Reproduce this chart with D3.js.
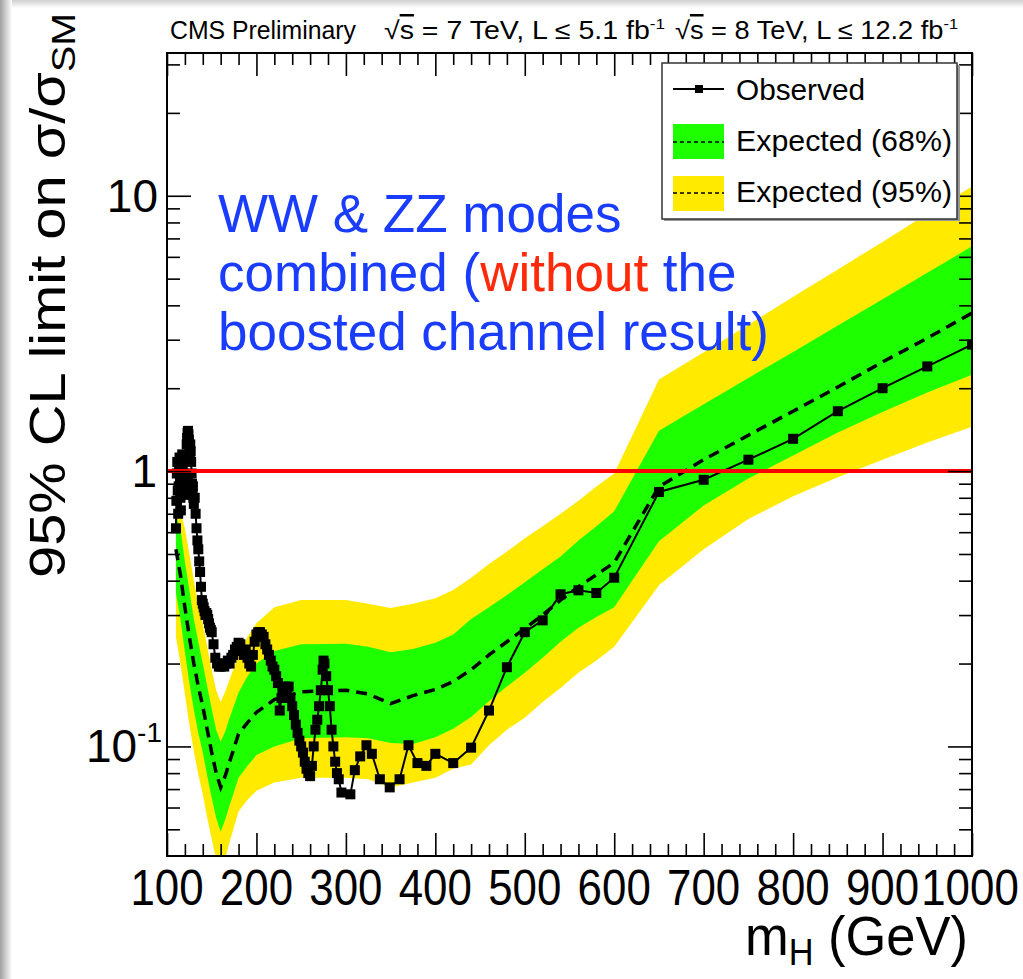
<!DOCTYPE html>
<html><head><meta charset="utf-8">
<script src="https://cdn.jsdelivr.net/npm/d3@7"></script>
<style>
body{margin:0;background:#fff}
svg{display:block}
text{font-family:"Liberation Sans",Arial,Helvetica,sans-serif}
</style>
</head><body>
<svg id="c" width="1023" height="979"></svg>
<script>
// ---------------- DATA ----------------
const obsMass = [110,110.5,111,111.5,112,112.5,113,113.5,114,114.5,115,115.5,116,116.5,117,117.5,118,118.5,119,119.5,
  120,120.5,121,121.5,122,122.5,123,123.5,124,124.5,125,125.5,126,126.5,127,127.5,128,128.5,129,129.5,
  130,131,132,133,134,135,136,137,138,139,140,141,142,143,144,145,146,147,148,149,150,152,154,156,158,160,
  162,164,166,168,170,172,174,176,178,180,182,184,186,188,190,192,194,196,198,200,202,204,206,208,210,
  212,214,216,218,220,222,224,226,228,230,232,234,236,238,240,242,244,246,248,250,252,254,256,258,260,
  262,264,266,268,270,272,274,275,276,278,280,282,284,286,288,290,292,295,305,310,316,323,329,338,349,
  360,370,380,390,400,420,440,460,480,500,520,540,560,580,600,650,700,750,800,850,900,950,1000];
const obsLimit = [0.62,0.78,0.98,1.08,0.85,0.70,0.88,1.02,1.12,0.95,0.80,0.72,0.90,1.0,1.15,1.05,0.92,0.85,0.98,1.1,
  0.95,0.82,0.95,1.12,1.25,1.32,1.38,1.40,1.36,1.30,1.22,1.15,1.25,1.18,1.08,0.98,0.90,0.82,0.88,0.80,
  0.76,0.80,0.70,0.62,0.56,0.52,0.47,0.43,0.38,0.34,0.33,0.32,0.31,0.30,0.305,0.30,0.29,0.28,0.27,0.265,0.26,0.235,0.21,0.20,0.195,0.195,
  0.20,0.195,0.20,0.205,0.20,0.21,0.215,0.225,0.23,0.238,0.235,0.222,0.215,0.225,0.21,0.20,0.195,0.215,0.24,0.255,0.26,0.26,0.255,0.25,0.235,
  0.225,0.215,0.205,0.195,0.19,0.18,0.17,0.135,0.15,0.16,0.165,0.16,0.165,0.15,0.14,0.13,0.12,0.112,0.105,0.10,0.095,0.088,0.083,0.080,0.078,
  0.085,0.10,0.115,0.125,0.14,0.16,0.19,0.205,0.20,0.18,0.16,0.14,0.115,0.10,0.088,0.080,0.076,0.068,0.067,0.082,0.092,0.101,0.094,0.076,0.071,
  0.076,0.101,0.087,0.085,0.094,0.087,0.099,0.135,0.194,0.26,0.287,0.357,0.369,0.361,0.41,0.84,0.93,1.10,1.31,1.65,2.0,2.4,2.88];

const expMass   = [110,115,120,125,130,135,140,145,150,155,160,165,170,180,190,200,220,250,300,325,350,375,400,420,440,460,480,500,520,540,560,580,600,650,700,750,800,850,900,950,1000];
const expMedian = [0.52,0.42,0.32,0.25,0.20,0.165,0.14,0.115,0.095,0.08,0.071,0.078,0.088,0.111,0.122,0.133,0.148,0.158,0.16,0.155,0.143,0.153,0.161,0.172,0.19,0.215,0.24,0.268,0.30,0.34,0.38,0.42,0.465,0.877,1.10,1.35,1.65,2.02,2.49,3.04,3.75];
const exp68Lo   = [0.36,0.29,0.22,0.17,0.136,0.112,0.095,0.078,0.065,0.055,0.049,0.054,0.061,0.077,0.085,0.093,0.100,0.107,0.108,0.107,0.103,0.102,0.108,0.116,0.128,0.146,0.165,0.185,0.21,0.24,0.27,0.295,0.32,0.556,0.75,0.94,1.14,1.38,1.64,1.93,2.24];
const exp68Hi   = [0.69,0.62,0.47,0.37,0.29,0.24,0.20,0.165,0.137,0.115,0.104,0.113,0.127,0.157,0.18,0.20,0.222,0.235,0.236,0.23,0.22,0.226,0.238,0.255,0.29,0.32,0.355,0.395,0.44,0.49,0.56,0.63,0.715,1.40,1.75,2.18,2.71,3.38,4.21,5.25,6.55];
const exp95Lo   = [0.25,0.20,0.155,0.12,0.096,0.079,0.067,0.055,0.046,0.039,0.035,0.039,0.045,0.058,0.064,0.069,0.074,0.077,0.077,0.076,0.071,0.074,0.077,0.083,0.086,0.101,0.115,0.127,0.145,0.163,0.185,0.205,0.23,0.385,0.52,0.67,0.81,0.95,1.10,1.27,1.45];
const exp95Hi   = [0.72,0.71,0.62,0.50,0.40,0.33,0.28,0.23,0.19,0.16,0.145,0.158,0.175,0.215,0.25,0.28,0.32,0.34,0.34,0.33,0.318,0.33,0.345,0.37,0.41,0.46,0.51,0.57,0.63,0.70,0.78,0.88,0.98,2.15,2.7,3.4,4.3,5.4,6.8,8.6,10.8];

const xMajorTicks = [100,200,300,400,500,600,700,800,900,1000];
const xTickLabels = ["100","200","300","400","500","600","700","800","900","1000"];
const xMinorTicks = [120,140,160,180,220,240,260,280,320,340,360,380,420,440,460,480,520,540,560,580,620,640,660,680,720,740,760,780,820,840,860,880,920,940,960,980];
const yMajorTicks = [0.1,1,10];
const yMinorTicks = [0.05,0.06,0.07,0.08,0.09,0.2,0.3,0.4,0.5,0.6,0.7,0.8,0.9,2,3,4,5,6,7,8,9,20,30];
const legendLabels = ["Observed","Expected (68%)","Expected (95%)"];

// ---------------- STYLE ----------------
const GREEN = "#1eff00", YELLOW = "#ffea00", BLUE = "#1a3cff", RED_TXT = "#ff2a0a";
const W = 1023, H = 979, L = 167, R = 972, T = 53, B = 856;

const svg = d3.select("#c");
const x = d3.scaleLinear().domain([100, 1000]).range([L, R]);
const y = d3.scaleLog().domain([0.04, 33]).range([B, T]);

// slide shadow edges
const defs = svg.append("defs");
const gl = defs.append("linearGradient").attr("id","gl").attr("x1",0).attr("x2",1).attr("y1",0).attr("y2",0);
gl.append("stop").attr("offset",0).attr("stop-color","#a0a0a0");
gl.append("stop").attr("offset",1).attr("stop-color","#ffffff");
const gt = defs.append("linearGradient").attr("id","gt").attr("x1",0).attr("x2",0).attr("y1",0).attr("y2",1);
gt.append("stop").attr("offset",0).attr("stop-color","#cfcfcf");
gt.append("stop").attr("offset",1).attr("stop-color","#ffffff");
svg.append("rect").attr("x",0).attr("y",0).attr("width",W).attr("height",8).attr("fill","url(#gt)");
svg.append("rect").attr("x",0).attr("y",0).attr("width",12).attr("height",H).attr("fill","url(#gl)");

defs.append("clipPath").attr("id","clip").append("rect")
  .attr("x",L).attr("y",T).attr("width",R-L).attr("height",B-T);

const expData = expMass.map((m,i)=>({m, med:expMedian[i], gLo:exp68Lo[i], gHi:exp68Hi[i], yLo:exp95Lo[i], yHi:exp95Hi[i]}));
const obsData = obsMass.map((m,i)=>({m, v:obsLimit[i]}));

const plot = svg.append("g").attr("clip-path","url(#clip)");
plot.append("path").datum(expData)
  .attr("d", d3.area().x(d=>x(d.m)).y0(d=>y(d.yLo)).y1(d=>y(d.yHi)))
  .attr("fill", YELLOW);
plot.append("path").datum(expData)
  .attr("d", d3.area().x(d=>x(d.m)).y0(d=>y(d.gLo)).y1(d=>y(d.gHi)))
  .attr("fill", GREEN);
plot.append("path").datum(expData)
  .attr("d", d3.line().x(d=>x(d.m)).y(d=>y(d.med)))
  .attr("fill","none").attr("stroke","#000").attr("stroke-width",3.5).attr("stroke-dasharray","11,7");
plot.append("path").datum(obsData)
  .attr("d", d3.line().x(d=>x(d.m)).y(d=>y(d.v)))
  .attr("fill","none").attr("stroke","#000").attr("stroke-width",2);
const MS = 10;
plot.selectAll("rect.obs").data(obsData).enter().append("rect").attr("class","obs")
  .attr("x",d=>x(d.m)-MS/2).attr("y",d=>y(d.v)-MS/2).attr("width",MS).attr("height",MS).attr("fill","#000");
plot.append("line").attr("x1",L).attr("x2",R).attr("y1",y(1)).attr("y2",y(1))
  .attr("stroke","#ff0000").attr("stroke-width",4);

// axes ticks on all four sides
function axisGroup(axis, tx, ty){
  const g = svg.append("g").attr("transform",`translate(${tx},${ty})`).call(axis);
  g.select(".domain").remove();
  g.selectAll("line").attr("stroke","#000").attr("stroke-width",1.6);
  return g;
}
axisGroup(d3.axisBottom(x).tickValues(xMajorTicks).tickSize(-23).tickFormat(""), 0, B);
axisGroup(d3.axisBottom(x).tickValues(xMinorTicks).tickSize(-12).tickFormat(""), 0, B);
axisGroup(d3.axisTop(x).tickValues(xMajorTicks).tickSize(-23).tickFormat(""), 0, T);
axisGroup(d3.axisTop(x).tickValues(xMinorTicks).tickSize(-12).tickFormat(""), 0, T);
axisGroup(d3.axisLeft(y).tickValues(yMajorTicks).tickSize(-24).tickFormat(""), L, 0);
axisGroup(d3.axisLeft(y).tickValues(yMinorTicks).tickSize(-13).tickFormat(""), L, 0);
axisGroup(d3.axisRight(y).tickValues(yMajorTicks).tickSize(-24).tickFormat(""), R, 0);
axisGroup(d3.axisRight(y).tickValues(yMinorTicks).tickSize(-13).tickFormat(""), R, 0);

svg.append("rect").attr("x",L).attr("y",T).attr("width",R-L).attr("height",B-T)
  .attr("fill","none").attr("stroke","#000").attr("stroke-width",2);

// x tick labels (the last two touch, as in the original)
xMajorTicks.forEach((v,i)=>{
  const lbl = xTickLabels[i];
  const cx = (v === 1000) ? x(v) - 2 : x(v);
  svg.append("text").attr("x",cx).attr("y",905).attr("text-anchor","middle")
    .attr("font-size",50).attr("textLength",lbl.length*24.4).attr("lengthAdjust","spacingAndGlyphs")
    .attr("fill","#000").text(lbl);
});
// y tick labels
svg.append("text").attr("x",158).attr("y",y(10)+16).attr("text-anchor","end").attr("font-size",46).text("10");
svg.append("text").attr("x",157).attr("y",y(1)+16).attr("text-anchor","end").attr("font-size",46).text("1");
const tm = svg.append("text").attr("x",162).attr("y",y(0.1)+16).attr("text-anchor","end").attr("font-size",46);
tm.append("tspan").text("10");
tm.append("tspan").attr("font-size",28).attr("dy",-20).text("-1");

// axis titles
const yt = svg.append("text").attr("transform",`translate(65,578) rotate(-90)`)
  .attr("font-size",50).attr("textLength",565).attr("lengthAdjust","spacingAndGlyphs");
yt.append("tspan").text("95% CL limit on σ/σ");
yt.append("tspan").attr("font-size",34).attr("dy",10).text("SM");

const xt = svg.append("text").attr("x",968).attr("y",955).attr("text-anchor","end")
  .attr("font-size",55).attr("textLength",223).attr("lengthAdjust","spacingAndGlyphs");
xt.append("tspan").text("m");
xt.append("tspan").attr("font-size",36).attr("dy",10).text("H");
xt.append("tspan").attr("dy",-10).text(" (GeV)");

// header
function header(xp, len, parts){
  const t = svg.append("text").attr("x",xp).attr("y",39).attr("font-size",25)
    .attr("textLength",len).attr("lengthAdjust","spacingAndGlyphs");
  parts.forEach(p=>{
    const s = t.append("tspan").text(p.t);
    if(p.sup) s.attr("font-size",15).attr("dy",-10);
    if(p.over) s.style("text-decoration","overline");
  });
}
header(170,186,[{t:"CMS Preliminary"}]);
header(384,281,[{t:"√"},{t:"s",over:true},{t:" = 7 TeV, L ≤ 5.1 fb"},{t:"-1",sup:true}]);
header(675,283,[{t:"√"},{t:"s",over:true},{t:" = 8 TeV, L ≤ 12.2 fb"},{t:"-1",sup:true}]);

// legend
svg.append("rect").attr("x",664).attr("y",65).attr("width",296).attr("height",156).attr("fill","#999");
svg.append("rect").attr("x",662).attr("y",63).attr("width",295).attr("height",156)
  .attr("fill","#fff").attr("stroke","#333").attr("stroke-width",1.5);
svg.append("line").attr("x1",673).attr("x2",724).attr("y1",89).attr("y2",89).attr("stroke","#000").attr("stroke-width",2);
svg.append("rect").attr("x",695).attr("y",85).attr("width",8).attr("height",8).attr("fill","#000");
svg.append("rect").attr("x",673).attr("y",124).attr("width",51).attr("height",35).attr("fill",GREEN);
svg.append("line").attr("x1",673).attr("x2",724).attr("y1",142).attr("y2",142).attr("stroke","#000").attr("stroke-width",1.6).attr("stroke-dasharray","4,3");
svg.append("rect").attr("x",673).attr("y",176).attr("width",51).attr("height",35).attr("fill",YELLOW);
svg.append("line").attr("x1",673).attr("x2",724).attr("y1",193).attr("y2",193).attr("stroke","#000").attr("stroke-width",1.6).attr("stroke-dasharray","4,3");
[[100,129],[151,216],[202,216]].forEach((p,i)=>{
  svg.append("text").attr("x",736).attr("y",p[0]).attr("font-size",30)
    .attr("textLength",p[1]).attr("lengthAdjust","spacingAndGlyphs").text(legendLabels[i]);
});

// annotation
const ann = [
  [{t:"WW & ZZ modes",c:BLUE}],
  [{t:"combined (",c:BLUE},{t:"without",c:RED_TXT},{t:" the",c:BLUE}],
  [{t:"boosted channel result)",c:BLUE}]
];
[232,291,350].forEach((yy,i)=>{
  const t = svg.append("text").attr("x",218).attr("y",yy).attr("font-size",53);
  ann[i].forEach(p=>t.append("tspan").attr("fill",p.c).text(p.t));
});
</script>
</body></html>
